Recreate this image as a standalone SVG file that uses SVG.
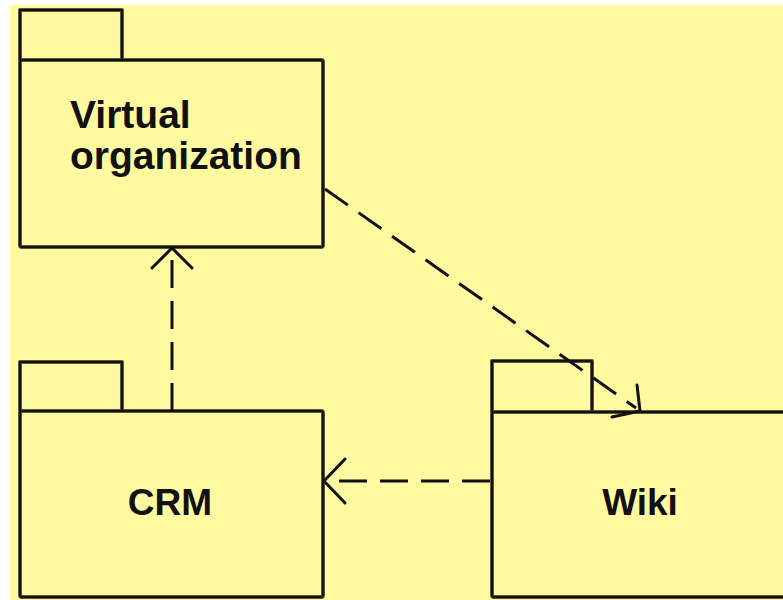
<svg xmlns="http://www.w3.org/2000/svg" width="783" height="600" viewBox="0 0 783 600">
  <style>
    .pkg { fill: #FFFA9F; stroke: #5a5a38; stroke-width: 4; stroke-linejoin: round; }
    .pkgc { fill: none; stroke: #111; stroke-width: 2; stroke-linejoin: round; }
    .lbl { font-family: "Liberation Sans", Arial, sans-serif; font-weight: bold; font-size: 37px; fill: #111; }
    .big { font-size: 39px; }
    .dep { fill: none; stroke: #111; stroke-width: 3; stroke-dasharray: 28 13; }
    .head { fill: none; stroke: #111; stroke-width: 3; stroke-linecap: round; stroke-linejoin: round; }
  </style>
  <rect x="0" y="0" width="783" height="600" fill="#ffffff"/>
  <rect x="10" y="5" width="773" height="595" fill="#FFFA9F"/>

  <g id="virtual-organization">
    <path class="pkg" d="M20 60 V10 H122 V60"/>
    <rect class="pkg" x="20" y="60" width="303" height="187" rx="2"/>
    <path class="pkgc" d="M20 60 V10 H122 V60"/>
    <rect class="pkgc" x="20" y="60" width="303" height="187" rx="2"/>
    <text class="lbl big" x="70" y="128">Virtual</text>
    <text class="lbl big" x="70" y="169">organization</text>
  </g>

  <g id="crm">
    <path class="pkg" d="M20 411 V362 H122 V411"/>
    <rect class="pkg" x="20" y="411" width="303" height="186" rx="2"/>
    <path class="pkgc" d="M20 411 V362 H122 V411"/>
    <rect class="pkgc" x="20" y="411" width="303" height="186" rx="2"/>
    <text class="lbl" x="170" y="515" text-anchor="middle">CRM</text>
  </g>

  <g id="wiki">
    <path class="pkg" d="M492 412 V361 H592 V412"/>
    <rect class="pkg" x="492" y="412" width="310" height="185" rx="2"/>
    <path class="pkgc" d="M492 412 V361 H592 V412"/>
    <rect class="pkgc" x="492" y="412" width="310" height="185" rx="2"/>
    <text class="lbl" x="640" y="515" text-anchor="middle">Wiki</text>
  </g>

  <g id="connectors">
    <line class="dep" x1="172" y1="411" x2="172" y2="250"/>
    <polyline class="head" points="152,268 172,248 192,268"/>
    <line class="dep" x1="490" y1="481" x2="326" y2="481"/>
    <polyline class="head" points="345,459 324,481 345,503"/>
    <line class="dep" x1="325" y1="189" x2="636" y2="408"/>
    <polyline class="head" points="637,385 640,411 612,417"/>
  </g>
</svg>
